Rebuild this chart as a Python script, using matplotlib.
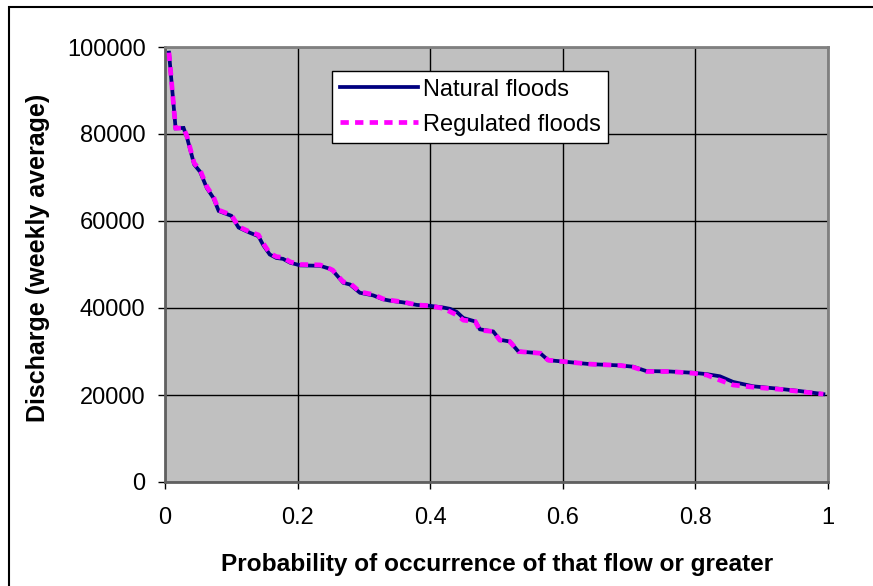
import matplotlib
matplotlib.use("Agg")
import matplotlib.pyplot as plt
from matplotlib.patches import Rectangle

plt.rcParams['font.family'] = ['Liberation Sans', 'DejaVu Sans']
plt.rcParams['lines.scale_dashes'] = False

# Data (probability, discharge)
nat_x = [0.006, 0.016, 0.028, 0.033, 0.044, 0.053, 0.063, 0.073, 0.081, 0.100,
         0.111, 0.128, 0.141, 0.148, 0.158, 0.168, 0.178, 0.189, 0.204, 0.234,
         0.249, 0.253, 0.269, 0.279, 0.294, 0.314, 0.329, 0.339, 0.359, 0.380,
         0.400, 0.420, 0.430, 0.440, 0.450, 0.468, 0.475, 0.495, 0.505, 0.520,
         0.533, 0.566, 0.578, 0.600, 0.641, 0.686, 0.706, 0.726, 0.762, 0.797,
         0.817, 0.837, 0.857, 0.887, 0.928, 0.958, 0.993]
nat_y = [98700, 81300, 81400, 79300, 73000, 71300, 67600, 65300, 62300, 61200,
         58500, 57300, 56500, 54500, 52300, 51500, 51300, 50400, 49800, 49700,
         49000, 48600, 45800, 45400, 43500, 42900, 42000, 41700, 41300, 40700,
         40500, 40100, 39800, 39100, 37700, 36900, 35100, 34600, 32700, 32300,
         30000, 29600, 28000, 27700, 27100, 26800, 26500, 25500, 25400, 25100,
         24800, 24300, 23000, 22000, 21400, 20900, 20200]

reg_x = [0.006, 0.016, 0.028, 0.033, 0.044, 0.053, 0.063, 0.073, 0.081, 0.100,
         0.111, 0.128, 0.141, 0.148, 0.158, 0.168, 0.178, 0.189, 0.204, 0.234,
         0.249, 0.253, 0.269, 0.279, 0.294, 0.314, 0.329, 0.339, 0.359, 0.380,
         0.400, 0.420, 0.440, 0.450, 0.468, 0.475, 0.495, 0.505, 0.520, 0.533,
         0.566, 0.578, 0.600, 0.641, 0.686, 0.706, 0.726, 0.762, 0.797, 0.817,
         0.837, 0.857, 0.887, 0.928, 0.958, 0.993]
reg_y = [98700, 81300, 81400, 79500, 73300, 71700, 67900, 65600, 62500, 61400,
         58700, 57500, 56800, 54900, 52600, 51800, 51600, 50600, 50000, 49900,
         49000, 48700, 46000, 45700, 43700, 43100, 42100, 41800, 41400, 40700,
         40500, 39900, 38400, 37200, 36900, 34900, 34600, 32600, 32300, 30000,
         29600, 28000, 27700, 27100, 26800, 26400, 25400, 25400, 25000, 24600,
         23400, 22300, 21800, 21300, 20800, 20200]

x_ticks = [0, 0.2, 0.4, 0.6, 0.8, 1]
x_tick_labels = ['0', '0.2', '0.4', '0.6', '0.8', '1']
y_ticks = [0, 20000, 40000, 60000, 80000, 100000]
y_tick_labels = ['0', '20000', '40000', '60000', '80000', '100000']

W, H = 873, 586
fig = plt.figure(figsize=(W / 100, H / 100), dpi=100)
fig.patch.set_facecolor('white')
L, R, T, B = 165, 828, 47, 482
ax = fig.add_axes([L / W, 1 - B / H, (R - L) / W, (B - T) / H])
ax.set_facecolor('#C0C0C0')

ax.plot(nat_x, nat_y, color='#000080', lw=2.7, solid_joinstyle='miter',
        label='Natural floods', zorder=3)
ax.plot(reg_x, reg_y, color='#FF00FF', lw=3.4, dashes=(6, 4.5),
        label='Regulated floods', zorder=4)

ax.set_xlim(0, 1)
ax.set_ylim(0, 100000)
ax.set_xticks(x_ticks)
ax.set_xticklabels(x_tick_labels)
ax.set_yticks(y_ticks)
ax.set_yticklabels(y_tick_labels)
ax.grid(True, color='black', lw=1.0)
ax.set_axisbelow(True)
ax.tick_params(axis='both', direction='out', length=5, width=1, color='black',
               labelsize=17, labelcolor='black')
ax.tick_params(axis='x', pad=13)
ax.tick_params(axis='y', pad=9)
for s in ['top', 'right']:
    ax.spines[s].set_color('#808080')
    ax.spines[s].set_linewidth(2)
for s in ['left', 'bottom']:
    ax.spines[s].set_color('#606060')
    ax.spines[s].set_linewidth(2)

leg = ax.legend(loc='upper left', bbox_to_anchor=(0.252, 0.945), borderaxespad=0,
                fontsize=17, frameon=True, fancybox=False, shadow=False,
                edgecolor='black', facecolor='white', framealpha=1,
                handlelength=3.3, handletextpad=0.2, borderpad=0.33,
                labelspacing=0.55)
leg.get_frame().set_linewidth(1.0)

fig.text(497 / W, 1 - 565 / H, 'Probability of occurrence of that flow or greater',
         ha='center', va='center', fontsize=17.6, fontweight='bold')
fig.text(38 / W, 1 - 258 / H, 'Discharge (weekly average)', ha='center', va='center',
         rotation=90, fontsize=18, fontweight='bold')

fig.patches.append(Rectangle((9 / W, -0.1), 1.2, (H - 7) / H + 0.1,
                             transform=fig.transFigure, fill=False,
                             edgecolor='black', lw=1.5, zorder=10))

fig.savefig('out.png', dpi=100)
